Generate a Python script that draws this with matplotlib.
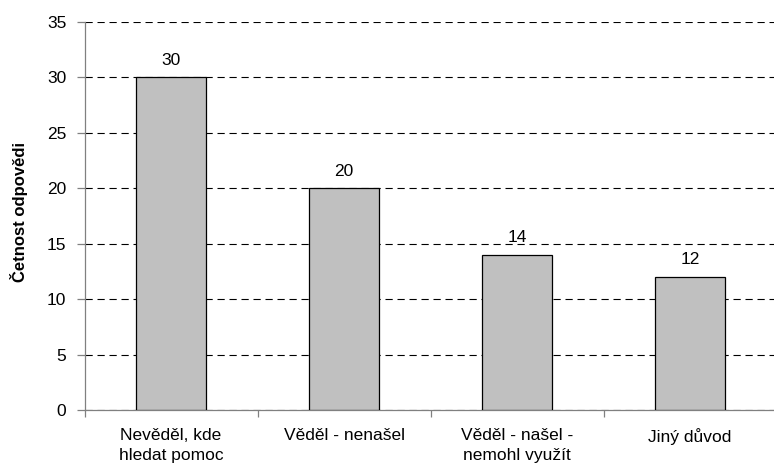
import numpy as np
import matplotlib
matplotlib.use('Agg')
import matplotlib.pyplot as plt

plt.rcParams['font.family'] = ['Liberation Sans', 'DejaVu Sans']

kategorie = ['Nevěděl, kde\nhledat pomoc', 'Věděl - nenašel', 'Věděl - našel -\nnemohl využít', 'Jiný důvod']
cetnost = [30, 20, 14, 12]

fig = plt.figure(figsize=(7.74, 4.66), dpi=100)
# axes run a bit past the right edge, as in the original
ax = fig.add_axes([84.5 / 774, 56 / 466, 692 / 774, 388.3 / 466])

x = np.arange(len(kategorie))
bars = ax.bar(x, cetnost, width=0.405, color='#C0C0C0', edgecolor='black', linewidth=0.9, zorder=3)

for b, v in zip(bars, cetnost):
    ax.annotate(str(v), (b.get_x() + b.get_width() / 2, v), xytext=(0, 9),
                textcoords='offset points', ha='center', va='baseline', fontsize=12.5)

ax.set_xlim(-0.5, 3.5)
ax.set_ylim(0, 35)
ax.set_yticks(np.arange(0, 36, 5))
ax.yaxis.grid(True, color='black', linestyle=(0, (6.5, 4.3)), linewidth=0.8, zorder=0)

ax.set_xticks(x)
ax.set_xticklabels(kategorie, fontsize=12.5, linespacing=1.45)
ax.set_xticks(np.arange(-0.5, 3.6, 1), minor=True)
ax.tick_params(axis='x', which='major', length=0, pad=13)
ax.tick_params(axis='x', which='minor', length=5, width=0.9, color='#808080')
ax.tick_params(axis='y', length=6, width=0.9, color='#808080', labelsize=12.5, pad=7)

for s in ['top', 'right']:
    ax.spines[s].set_visible(False)
for s in ['left', 'bottom']:
    ax.spines[s].set_color('#808080')
    ax.spines[s].set_linewidth(0.9)

ax.set_ylabel('Četnost odpovědi', fontsize=12, fontweight='bold')
ax.yaxis.set_label_coords(-0.0816, 0.51)

fig.savefig('out.png', dpi=100)
